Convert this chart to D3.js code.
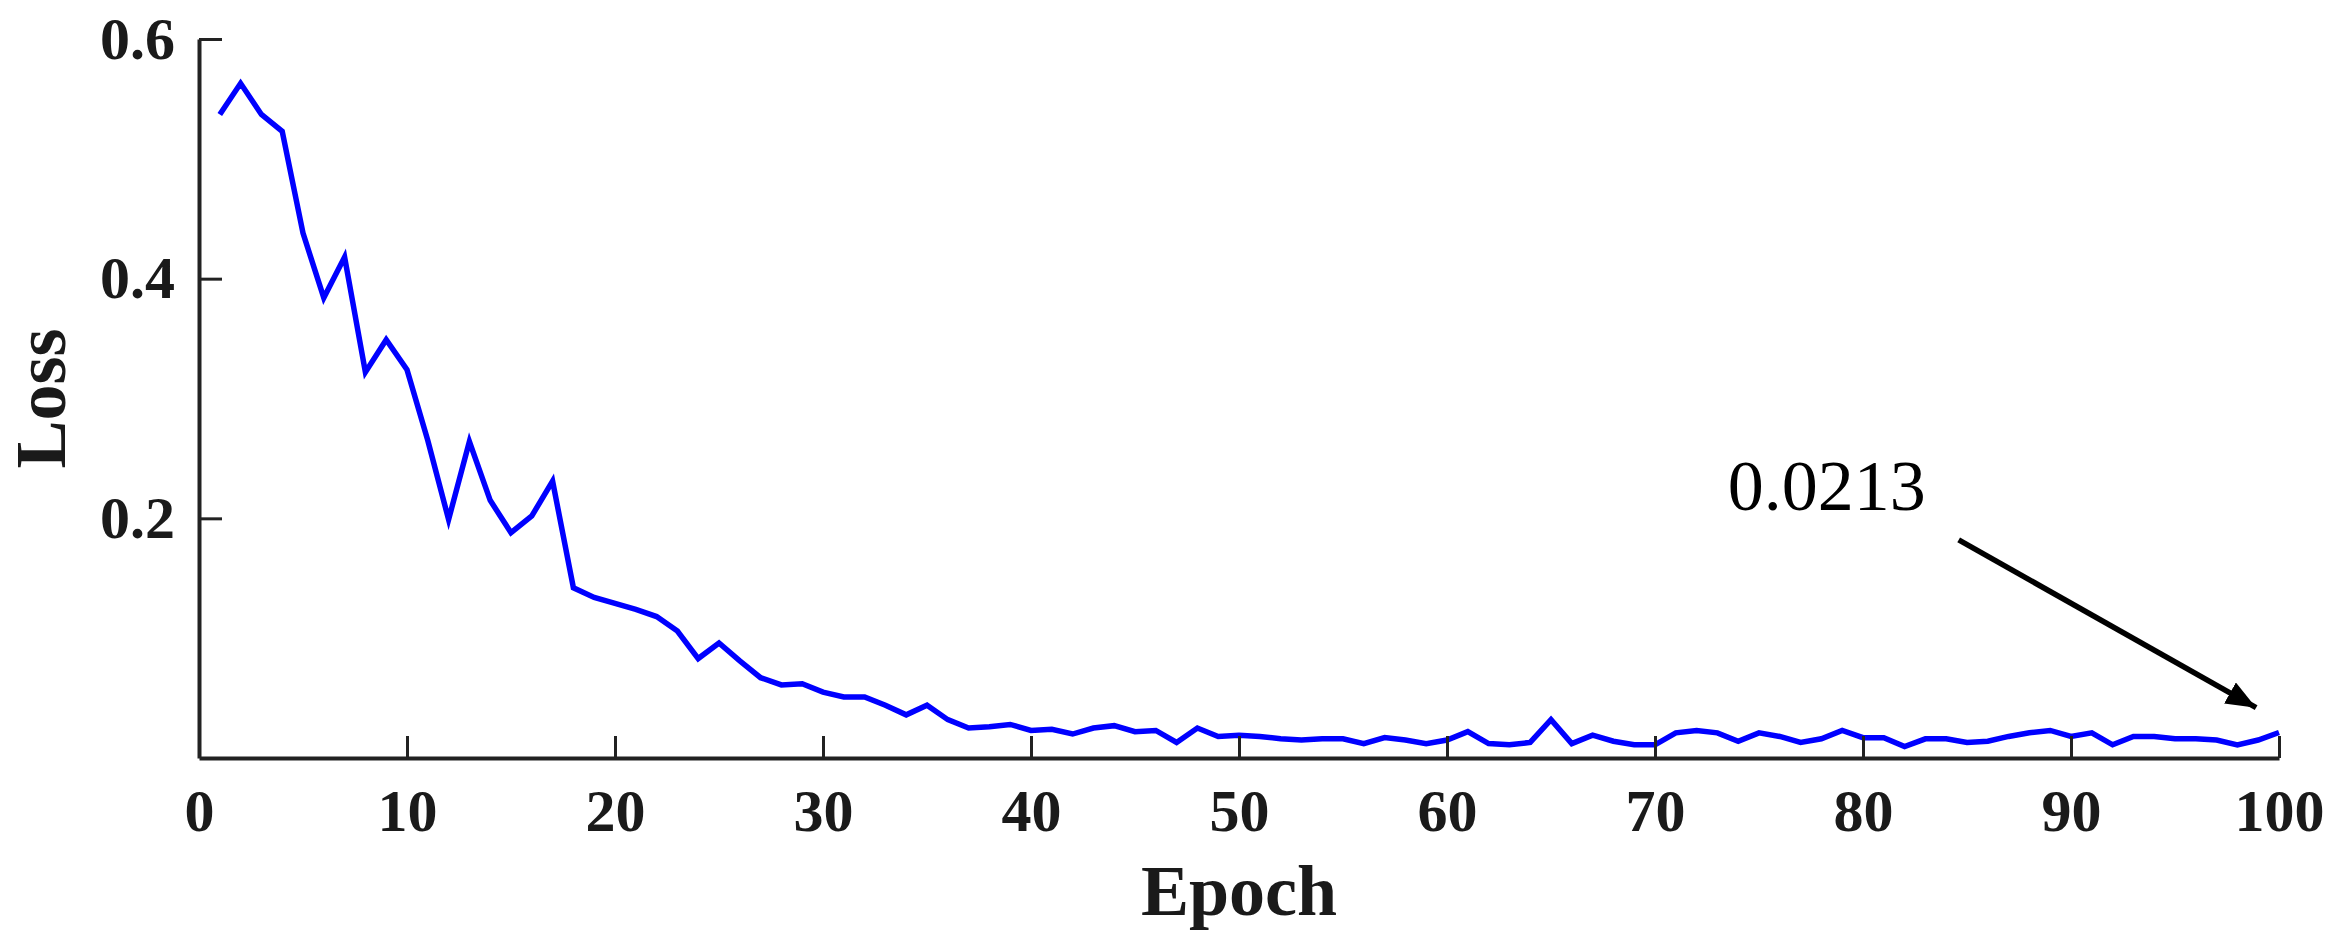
<!DOCTYPE html>
<html>
<head>
<meta charset="utf-8">
<script src="https://cdn.jsdelivr.net/npm/d3@7"></script>
<style>
  body { margin: 0; background: #fff; }
</style>
</head>
<body>
<div id="chart"></div>
<script>
const epochs = d3.range(1, 101);
const loss = [
  0.537, 0.563, 0.537, 0.523, 0.438, 0.384, 0.418, 0.322, 0.349, 0.324,
  0.265, 0.199, 0.264, 0.215, 0.188, 0.202, 0.231, 0.142, 0.134, 0.129,
  0.124, 0.118, 0.106, 0.083, 0.096, 0.081, 0.067, 0.061, 0.062, 0.055,
  0.051, 0.051, 0.044, 0.036, 0.044, 0.032, 0.025, 0.026, 0.028, 0.023,
  0.024, 0.020, 0.025, 0.027, 0.022, 0.023, 0.013, 0.025, 0.018, 0.019,
  0.018, 0.016, 0.015, 0.016, 0.016, 0.012, 0.017, 0.015, 0.012, 0.015,
  0.022, 0.012, 0.011, 0.013, 0.032, 0.012, 0.019, 0.014, 0.011, 0.011,
  0.021, 0.023, 0.021, 0.014, 0.021, 0.018, 0.013, 0.016, 0.023, 0.017,
  0.017, 0.0095, 0.016, 0.016, 0.013, 0.014, 0.018, 0.021, 0.023, 0.018,
  0.021, 0.011, 0.018, 0.018, 0.016, 0.016, 0.015, 0.011, 0.015, 0.0213
];
const xTicks = [0, 10, 20, 30, 40, 50, 60, 70, 80, 90, 100];
const yTicks = [0.2, 0.4, 0.6];
const xLabel = 'Epoch';
const yLabel = 'Loss';
const noteText = '0.0213';
// annotation in data units: text anchor, arrow start, arrow tip
const notePos = [73.5, 0.207];
const arrowFrom = [84.6, 0.182];
const arrowTo = [98.9, 0.042];

const width = 2340;
const height = 950;
const margin = { top: 39, right: 61, bottom: 192, left: 199 };
const font = '"Liberation Serif", "Times New Roman", serif';

const svg = d3.select('#chart')
  .append('svg')
  .attr('width', width)
  .attr('height', height)
  .style('background', '#fff');

const x = d3.scaleLinear()
  .domain([0, 100])
  .range([margin.left, width - margin.right]);

const y = d3.scaleLinear()
  .domain([0, 0.6])
  .range([height - margin.bottom, margin.top]);

const line = d3.line()
  .x((d, i) => x(epochs[i]))
  .y(d => y(d));

svg.append('path')
  .datum(loss)
  .attr('fill', 'none')
  .attr('stroke', '#0000ff')
  .attr('stroke-width', 5.5)
  .attr('stroke-linejoin', 'miter')
  .attr('d', line);

function xAxis(g) {
  g.attr('transform', `translate(0,${y(0)})`)
    .call(d3.axisBottom(x).tickValues(xTicks).tickSizeInner(-22).tickSizeOuter(0).tickPadding(30))
    .attr('font-size', '60px')
    .attr('font-family', font)
    .attr('font-weight', 'bold');
}

function yAxis(g) {
  g.attr('transform', `translate(${x(0)},0)`)
    .call(d3.axisLeft(y).tickValues(yTicks).tickFormat(d3.format('.1f')).tickSizeInner(-23).tickSizeOuter(0).tickPadding(24))
    .attr('font-size', '60px')
    .attr('font-family', font)
    .attr('font-weight', 'bold');
}

svg.append('g').call(xAxis);
svg.append('g').call(yAxis);

svg.selectAll('.domain').attr('stroke', '#222').attr('stroke-width', 4);
svg.selectAll('.tick line').attr('stroke', '#222').attr('stroke-width', 3);
svg.selectAll('.tick text').attr('fill', '#1a1a1a');

svg.append('text')
  .attr('x', (x(0) + x(100)) / 2)
  .attr('y', 915)
  .attr('text-anchor', 'middle')
  .attr('font-family', font)
  .attr('font-weight', 'bold')
  .attr('font-size', '72px')
  .attr('fill', '#1a1a1a')
  .text(xLabel);

svg.append('text')
  .attr('transform', `translate(65,${(y(0) + y(0.6)) / 2}) rotate(-90)`)
  .attr('text-anchor', 'middle')
  .attr('font-family', font)
  .attr('font-weight', 'bold')
  .attr('font-size', '72px')
  .attr('fill', '#1a1a1a')
  .text(yLabel);

// annotation
svg.append('defs').append('marker')
  .attr('id', 'arrowhead')
  .attr('markerUnits', 'userSpaceOnUse')
  .attr('viewBox', '0 0 30 24')
  .attr('refX', 30)
  .attr('refY', 12)
  .attr('markerWidth', 30)
  .attr('markerHeight', 24)
  .attr('orient', 'auto')
  .append('path')
  .attr('d', 'M0,0 L30,12 L0,24 Z')
  .attr('fill', '#000');

svg.append('line')
  .attr('x1', x(arrowFrom[0]))
  .attr('y1', y(arrowFrom[1]))
  .attr('x2', x(arrowTo[0]))
  .attr('y2', y(arrowTo[1]))
  .attr('stroke', '#000')
  .attr('stroke-width', 5.5)
  .attr('marker-end', 'url(#arrowhead)');

svg.append('text')
  .attr('x', x(notePos[0]))
  .attr('y', y(notePos[1]))
  .attr('font-family', font)
  .attr('font-size', '72px')
  .attr('fill', '#000')
  .text(noteText);
</script>
</body>
</html>
